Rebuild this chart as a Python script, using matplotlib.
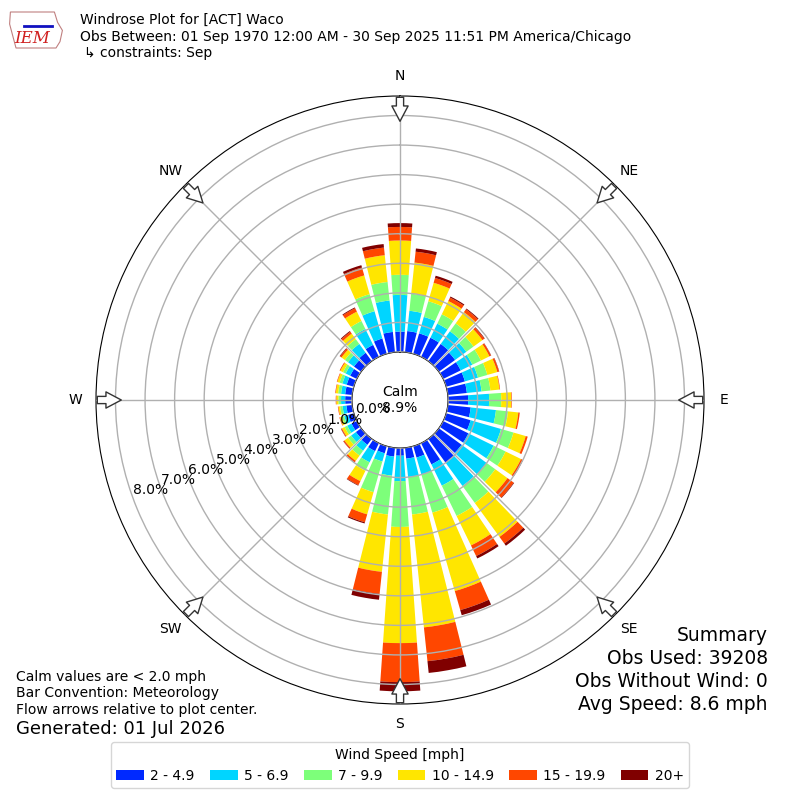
import numpy as np
import matplotlib
matplotlib.use("Agg")
import matplotlib.pyplot as plt
from matplotlib.patches import Patch, Polygon


# wind directions (deg, meteorological) and frequency (%) per speed bin
directions = np.arange(0, 360, 10)

speed_labels = ["2 - 4.9", "5 - 6.9", "7 - 9.9", "10 - 14.9", "15 - 19.9", "20+"]

bin_2_5 = [0.69, 0.72, 0.72, 0.72, 0.72, 0.68, 0.66, 0.66, 0.65, 0.68, 0.78, 0.86,
           0.95, 0.95, 1.01, 0.80, 0.40, 0.37, 0.26, 0.30, 0.25, 0.30, 0.25, 0.22,
           0.20, 0.20, 0.20, 0.23, 0.24, 0.25, 0.25, 0.30, 0.35, 0.45, 0.54, 0.69]
bin_5_7 = [1.24, 0.69, 0.58, 0.53, 0.53, 0.47, 0.44, 0.46, 0.50, 0.71, 0.86, 1.07,
           0.95, 1.04, 0.96, 0.80, 0.60, 0.63, 0.86, 0.65, 0.29, 0.42, 0.25, 0.20,
           0.16, 0.14, 0.13, 0.14, 0.14, 0.15, 0.17, 0.25, 0.37, 0.60, 0.96, 1.07]
bin_7_10 = [0.68, 0.58, 0.55, 0.35, 0.33, 0.30, 0.32, 0.33, 0.30, 0.41, 0.41, 0.44,
            0.45, 0.37, 0.71, 1.14, 1.34, 1.27, 1.55, 1.32, 1.08, 0.32, 0.20, 0.13,
            0.10, 0.08, 0.08, 0.09, 0.10, 0.10, 0.10, 0.13, 0.20, 0.30, 0.60, 0.63]
bin_10_15 = [1.16, 1.06, 0.65, 0.50, 0.47, 0.37, 0.32, 0.35, 0.31, 0.34, 0.35, 0.43,
             0.58, 0.51, 1.42, 1.11, 2.76, 3.84, 3.93, 1.95, 0.78, 0.39, 0.22, 0.15,
             0.10, 0.07, 0.06, 0.07, 0.08, 0.08, 0.10, 0.14, 0.23, 0.35, 0.66, 0.91]
bin_15_20 = [0.46, 0.37, 0.17, 0.13, 0.12, 0.08, 0.06, 0.06, 0.02, 0.02, 0.05, 0.07,
             0.07, 0.26, 0.28, 0.40, 0.67, 1.15, 1.32, 0.75, 0.28, 0.15, 0.07, 0.04,
             0.03, 0.02, 0.02, 0.02, 0.02, 0.02, 0.03, 0.06, 0.08, 0.13, 0.28, 0.26]
bin_20 = [0.13, 0.11, 0.08, 0.04, 0.03, 0.02, 0.01, 0.01, 0.00, 0.00, 0.00, 0.00,
          0.01, 0.02, 0.09, 0.09, 0.18, 0.40, 0.31, 0.20, 0.04, 0.02, 0.01, 0.01,
          0.01, 0.00, 0.00, 0.00, 0.00, 0.00, 0.00, 0.02, 0.03, 0.03, 0.08, 0.12]

bins = [bin_2_5, bin_5_7, bin_7_10, bin_10_15, bin_15_20, bin_20]

calm_pct = 8.9
rmax = 8.66
rorigin = -1.625

colors = plt.cm.jet(np.linspace(0, 1, 7)[1:])

fig = plt.figure(figsize=(8, 8), dpi=100)
ax = fig.add_axes([0.12, 0.12, 0.76, 0.76], projection="polar")
ax.set_theta_zero_location("N")
ax.set_theta_direction(-1)

theta = np.radians(directions)
width = np.radians(8)
base = np.zeros(len(directions))
for vals, c in zip(bins, colors):
    vals = np.array(vals)
    ax.bar(theta, vals, width=width, bottom=base, color=c, edgecolor="none", zorder=2)
    base = base + vals

ax.set_rorigin(rorigin)
ax.set_ylim(0, rmax)
ax.set_axisbelow(False)
ax.grid(True, color="#b0b0b0", linewidth=1.0, zorder=3)

ax.set_thetagrids(range(0, 360, 45), ["N", "NE", "E", "SE", "S", "SW", "W", "NW"],
                  fontsize=10)
ax.tick_params(axis="x", pad=4)
rticks = np.arange(0, 9, 1)
ax.set_rgrids(rticks, ["%.1f%%" % r for r in rticks], angle=250, fontsize=10)
ax.spines["polar"].set_color("black")
ax.spines["inner"].set_color("black")

# flow arrows at the edge, pointing to the center
for d in range(0, 360, 45):
    t = np.radians(d)
    ax.annotate("", xy=(t, rmax - 0.95), xytext=(t, rmax + 0.05),
                arrowprops=dict(arrowstyle="simple,head_length=0.85,head_width=0.9,tail_width=0.4",
                                fc="white", ec="#333333", lw=1.0, mutation_scale=13),
                annotation_clip=False, zorder=5)

fig.text(0.5, 0.5, "Calm\n%.1f%%" % calm_pct, ha="center", va="center", fontsize=10,
         linespacing=1.2)

# header
fig.text(0.1, 0.975, "Windrose Plot for [ACT] Waco", fontsize=10, va="center")
fig.text(0.1, 0.954, "Obs Between: 01 Sep 1970 12:00 AM - 30 Sep 2025 11:51 PM America/Chicago",
         fontsize=10, va="center")
fig.text(0.105, 0.934, "\u21b3 constraints: Sep", fontsize=10, va="center")

# small logo
outline = [(0.013, 0.985), (0.068, 0.985), (0.072, 0.972), (0.078, 0.962), (0.075, 0.948),
           (0.07, 0.94), (0.02, 0.94), (0.016, 0.955), (0.012, 0.97)]
fig.patches.append(Polygon(outline, closed=True, fill=False, ec="#c08080", lw=0.8,
                           transform=fig.transFigure))
fig.lines.append(plt.Line2D([0.03, 0.065], [0.968, 0.968], color="#1010c0", lw=2,
                            transform=fig.transFigure))
fig.text(0.04, 0.952, "IEM", color="#d02020", fontsize=12, style="italic",
         family="DejaVu Serif", ha="center", va="center")

# footnotes
fig.text(0.02, 0.154, "Calm values are < 2.0 mph", fontsize=10, va="center")
fig.text(0.02, 0.134, "Bar Convention: Meteorology", fontsize=10, va="center")
fig.text(0.02, 0.1125, "Flow arrows relative to plot center.", fontsize=10, va="center")
fig.text(0.02, 0.089, "Generated: 01 Jul 2026", fontsize=13, va="center")

summary = ["Summary", "Obs Used: 39208", "Obs Without Wind: 0", "Avg Speed: 8.6 mph"]
for i, line in enumerate(summary):
    fig.text(0.96, 0.206 - i * 0.029, line, fontsize=13.5, ha="right", va="center")

handles = [Patch(facecolor=c, edgecolor="none") for c in colors]
fig.legend(handles, speed_labels, loc="lower center", bbox_to_anchor=(0.5, 0.006), ncol=6,
           title="Wind Speed [mph]", fontsize=10, title_fontsize=10, handlelength=2.0,
           handletextpad=0.45, columnspacing=1.1)

fig.savefig("out.png", dpi=100)
